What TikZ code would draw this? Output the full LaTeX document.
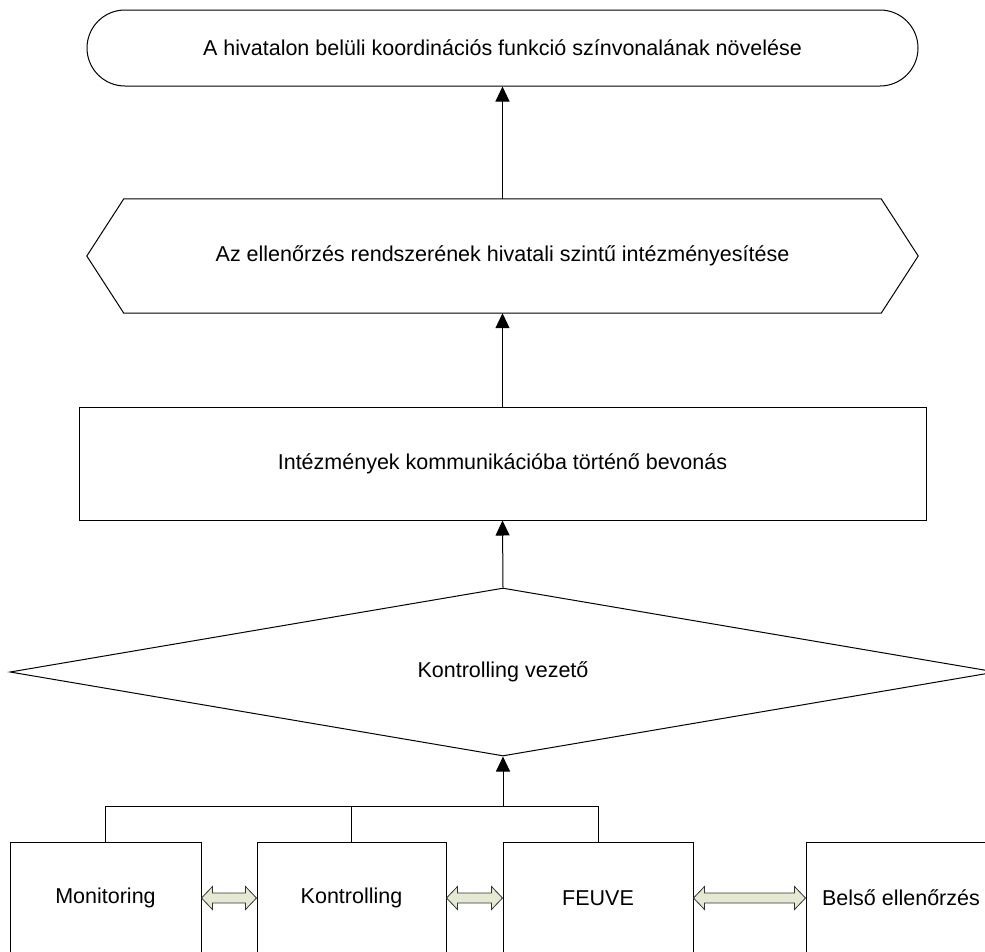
\documentclass[tikz,border=0pt]{standalone}
\usepackage{fontspec}
\setmainfont{Liberation Sans}
\usetikzlibrary{arrows.meta,shapes.geometric,calc}
\definecolor{arrowfill}{RGB}{228,233,210}
\tikzset{
  lbl/.style={font=\fontsize{21.5}{25}\selectfont, inner sep=0pt, align=center},
  outline/.style={draw=black, line width=1pt},
  boxnode/.style={lbl, outline, rectangle, minimum width=190pt, minimum height=112pt},
  arr/.style={line width=1pt, -{Triangle[length=15pt,width=14pt]}},
  wire/.style={line width=1pt},
  dbl/.style={draw=black!80, line width=0.8pt, fill=arrowfill},
}
\newcommand{\dblarrow}[2]{%
  \path[dbl] let \p1=(#1.east), \p2=(#2.west) in
    (\x1,\y1) -- (\x1+11pt,\y1+11.5pt) -- (\x1+11pt,\y1+5pt) -- (\x2-11pt,\y1+5pt)
    -- (\x2-11pt,\y1+11.5pt) -- (\x2,\y1) -- (\x2-11pt,\y1-11.5pt) -- (\x2-11pt,\y1-5pt)
    -- (\x1+11pt,\y1-5pt) -- (\x1+11pt,\y1-11.5pt) -- cycle;}
\begin{document}
\begin{tikzpicture}[x=1pt,y=-1pt]
\useasboundingbox (0,0) rectangle (985,951);
\clip (0,0) rectangle (985,951);
% top goal
\node[lbl, outline, rectangle, rounded corners=38pt, minimum width=831pt, minimum height=76pt] (top) at (502.5,48)
  {A hivatalon belüli koordinációs funkció színvonalának növelése};
% hexagon
\node[lbl, minimum width=831pt, minimum height=114pt] (hex) at (502.5,256)
  {Az ellenőrzés rendszerének hivatali szintű intézményesítése};
\draw[outline] (hex.west) -- ([xshift=37pt]hex.north west) -- ([xshift=-37pt]hex.north east)
  -- (hex.east) -- ([xshift=-37pt]hex.south east) -- ([xshift=37pt]hex.south west) -- cycle;
% rectangle
\node[lbl, outline, rectangle, minimum width=847pt, minimum height=113pt] (rect) at (502.5,463.5)
  {Intézmények kommunikációba történő bevonás};
% diamond
\node[lbl, outline, diamond, aspect=5.87, minimum width=986pt, minimum height=168pt] (dia) at (503,672)
  {Kontrolling vezető};
% bottom boxes
\node[boxnode, minimum width=191pt] (mon) at (105.5,898) {Monitoring};
\node[boxnode, minimum width=189pt] (kon) at (351.5,898) {Kontrolling};
\node[boxnode] (feu) at (598,898) {FEUVE};
\node[boxnode] (bel) at (901,898) {Belső ellenőrzés};
% connectors
\draw[arr] (hex.north) -- (top.south);
\draw[arr] (rect.north) -- (hex.south);
\draw[arr] (dia.north) -- (rect.south);
\coordinate (bus) at (503,806);
\draw[wire] (mon.north) |- (bus) -| (feu.north);
\draw[wire] (kon.north) -- (kon.north |- bus);
\draw[arr] (bus) -- (dia.south);
% double arrows
\dblarrow{mon}{kon}
\dblarrow{kon}{feu}
\dblarrow{feu}{bel}
\end{tikzpicture}
\end{document}
